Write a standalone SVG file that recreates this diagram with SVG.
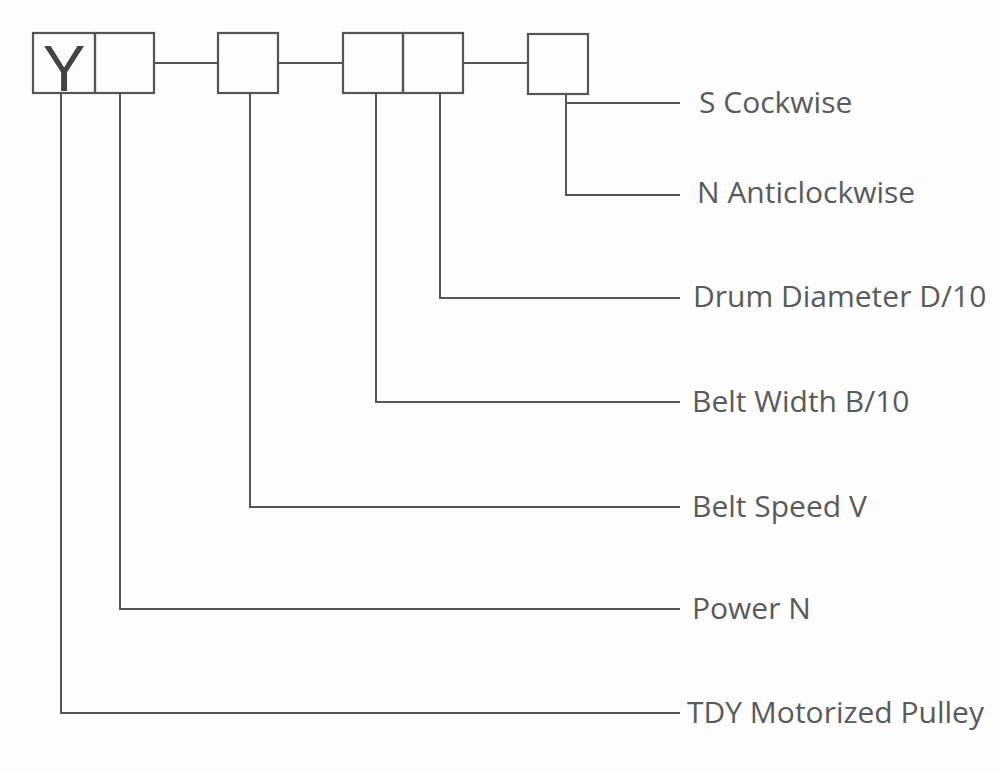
<svg xmlns="http://www.w3.org/2000/svg" width="1000" height="773" viewBox="0 0 1000 773">
<style>
.box{fill:none;stroke:#555;stroke-width:2.2}
.ln{fill:none;stroke:#555;stroke-width:2}
.lbl{font-family:"Open Sans","Noto Sans",sans-serif;font-size:30px;fill:#5a5a5a}
</style>
<rect width="1000" height="773" fill="#fdfdfd"/>
<g id="node-y">
<rect class="box" x="33" y="33" width="62" height="60"/>
<text x="64" y="91" text-anchor="middle" font-family="Liberation Sans, Arial, sans-serif" font-size="64" fill="#444">Y</text>
</g>
<g id="node-power"><rect class="box" x="95" y="33" width="59" height="60"/></g>
<g id="node-speed"><rect class="box" x="218" y="33" width="60" height="60"/></g>
<g id="node-width"><rect class="box" x="343" y="33" width="60" height="60"/></g>
<g id="node-diameter"><rect class="box" x="403" y="33" width="60" height="60"/></g>
<g id="node-direction"><rect class="box" x="528" y="34" width="60" height="60"/></g>
<g id="connectors">
<line class="ln" x1="154" y1="63" x2="218" y2="63"/>
<line class="ln" x1="278" y1="63" x2="343" y2="63"/>
<line class="ln" x1="463" y1="63" x2="528" y2="63"/>
<polyline class="ln" points="566,94 566,195 680,195"/>
<line class="ln" x1="565" y1="103" x2="680" y2="103"/>
<polyline class="ln" points="440,93 440,298 680,298"/>
<polyline class="ln" points="376,93 376,402 680,402"/>
<polyline class="ln" points="250,93 250,507 680,507"/>
<polyline class="ln" points="120,93 120,609 680,609"/>
<polyline class="ln" points="61,93 61,713 680,713"/>
</g>
<g id="labels">
<text class="lbl" x="699" y="113">S Cockwise</text>
<text class="lbl" x="697" y="203">N Anticlockwise</text>
<text class="lbl" x="693" y="307">Drum Diameter D/10</text>
<text class="lbl" x="692" y="412">Belt Width B/10</text>
<text class="lbl" x="692" y="517">Belt Speed V</text>
<text class="lbl" x="692" y="619">Power N</text>
<text class="lbl" x="687" y="723">TDY Motorized Pulley</text>
</g>
</svg>
